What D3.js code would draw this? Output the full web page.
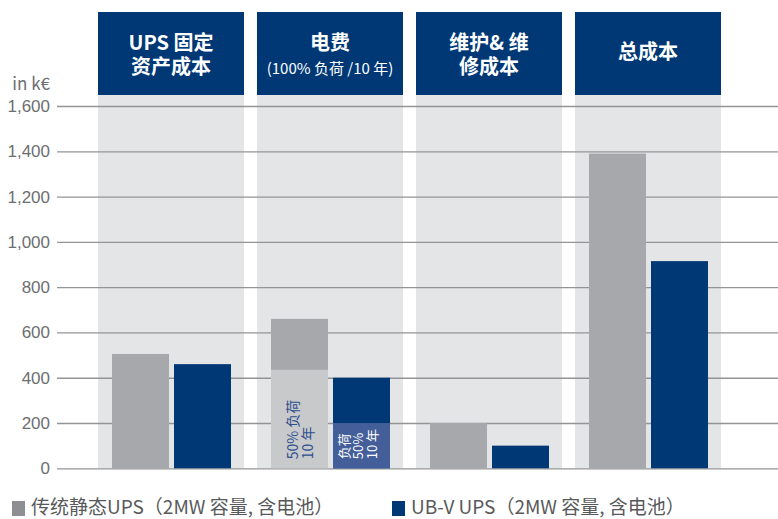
<!DOCTYPE html>
<html>
<head>
<meta charset="utf-8">
<script src="https://cdn.jsdelivr.net/npm/d3@7"></script>
<style>
  body { margin: 0; background: #fff; }
  svg { display: block; font-family: "Liberation Sans Narrow", "Noto Sans CJK SC", sans-serif; }
</style>
</head>
<body>
<div id="chart"></div>
<script>
// cost categories (header text, one array entry per line)
const categories = ['fixed', 'power', 'maint', 'total']
const headerLines = [
	['UPS 固定', '资产成本'],
	['电费', '(100% 负荷 /10 年)'],
	['维护& 维', '修成本'],
	['总成本']
]
const conventional = [505, 660, 200, 1390]
const ubv = [460, 400, 100, 915]
// electricity at 50% load (lower part of the power bars)
const conventional50 = 435
const ubv50 = 200
const yTicks = [0, 200, 400, 600, 800, 1000, 1200, 1400, 1600]
const legendLabels = ['传统静态UPS（2MW 容量, 含电池）', 'UB-V UPS（2MW 容量, 含电池）']

let width = 778
let height = 519

const svg = d3.select('#chart')
	.append('svg')
	.attr('width', width)
	.attr('height', height)

let xScale = d3.scaleBand()
	.domain(categories)
	.range([98, 721])
	.paddingInner(13 / 159)

let innerScale = d3.scaleBand()
	.domain(['conv', 'ubv'])
	.range([14, 133])
	.paddingInner(0.0806)

let yScale = d3.scaleLinear()
	.domain([0, 1600])
	.range([468.3, 106])

// panel backgrounds
svg.selectAll('.panel')
	.data(categories)
	.enter()
	.append('rect')
	.attr('x', d => xScale(d))
	.attr('width', xScale.bandwidth())
	.attr('y', 95)
	.attr('height', yScale(0) - 95)
	.attr('fill', '#e4e5e7')

// headers
svg.selectAll('.header')
	.data(categories)
	.enter()
	.append('rect')
	.attr('x', d => xScale(d))
	.attr('width', xScale.bandwidth())
	.attr('y', 12)
	.attr('height', 83)
	.attr('fill', '#003876')

categories.forEach(function(c, i){
	let lines = headerLines[i]
	let cx = xScale(c) + xScale.bandwidth() / 2
	lines.forEach(function(l, j){
		let small = l.startsWith('(')
		svg.append('text')
			.attr('x', cx)
			.attr('y', lines.length == 1 ? 59 : 50 + j * 23.5)
			.attr('text-anchor', 'middle')
			.attr('fill', 'white')
			.attr('font-size', small ? 15 : 20)
			.attr('font-weight', small ? 'normal' : 'bold')
			.text(l)
	})
})

// y axis
let yAxis = g => g.attr('transform', 'translate(57,0)')
	.call(d3.axisLeft(yScale).tickValues(yTicks).tickSize(-(width - 57)).tickPadding(7).tickFormat(d3.format(',')))
	.call(g => g.select('.domain').remove())

let yG = svg.append('g').call(yAxis)
yG.selectAll('line').attr('stroke', '#939496').attr('stroke-width', 1.3)
yG.selectAll('text').attr('fill', '#6d6e71').attr('font-size', 17).attr('font-family', null)

svg.append('text')
	.attr('x', 50)
	.attr('y', 90)
	.attr('text-anchor', 'end')
	.attr('fill', '#6d6e71')
	.attr('font-size', 17)
	.text('in k€')

// bars
svg.selectAll('.convBar')
	.data(conventional)
	.enter()
	.append('rect')
	.attr('x', (d, i) => xScale(categories[i]) + innerScale('conv'))
	.attr('width', innerScale.bandwidth())
	.attr('y', d => yScale(d))
	.attr('height', d => yScale(0) - yScale(d))
	.attr('fill', '#a7a8ab')

svg.selectAll('.ubvBar')
	.data(ubv)
	.enter()
	.append('rect')
	.attr('x', (d, i) => xScale(categories[i]) + innerScale('ubv'))
	.attr('width', innerScale.bandwidth())
	.attr('y', d => yScale(d))
	.attr('height', d => yScale(0) - yScale(d))
	.attr('fill', '#003876')

// 50% load parts
let convX = xScale('power') + innerScale('conv')
let ubvX = xScale('power') + innerScale('ubv')

svg.append('rect')
	.attr('x', convX)
	.attr('width', innerScale.bandwidth())
	.attr('y', yScale(conventional50))
	.attr('height', yScale(0) - yScale(conventional50))
	.attr('fill', '#c8c9cb')

svg.append('rect')
	.attr('x', ubvX)
	.attr('width', innerScale.bandwidth())
	.attr('y', yScale(ubv50))
	.attr('height', yScale(0) - yScale(ubv50))
	.attr('fill', '#435e98')

function verticalLabel(x0, lines, color, size, step){
	lines.forEach(function(l, j){
		svg.append('text')
			.attr('transform', `translate(${x0 + j * step},${yScale(0) - 9}) rotate(-90)`)
			.attr('fill', color)
			.attr('font-size', size)
			.text(l)
	})
}

verticalLabel(convX + 27, ['50% 负荷', '10 年'], '#2e4f8f', 14, 14.5)
verticalLabel(ubvX + 16, ['负荷', '50%', '10 年'], 'white', 13, 14)

// legend
let legendX = [12, 392]
let legendColors = ['#8e8f92', '#003876']

legendLabels.forEach(function(l, i){
	svg.append('rect')
		.attr('x', legendX[i])
		.attr('y', 501)
		.attr('width', 13)
		.attr('height', 15)
		.attr('fill', legendColors[i])
	svg.append('text')
		.attr('x', legendX[i] + 19)
		.attr('y', 514)
		.attr('fill', '#58595b')
		.attr('font-size', 19)
		.text(l)
})
</script>
</body>
</html>
